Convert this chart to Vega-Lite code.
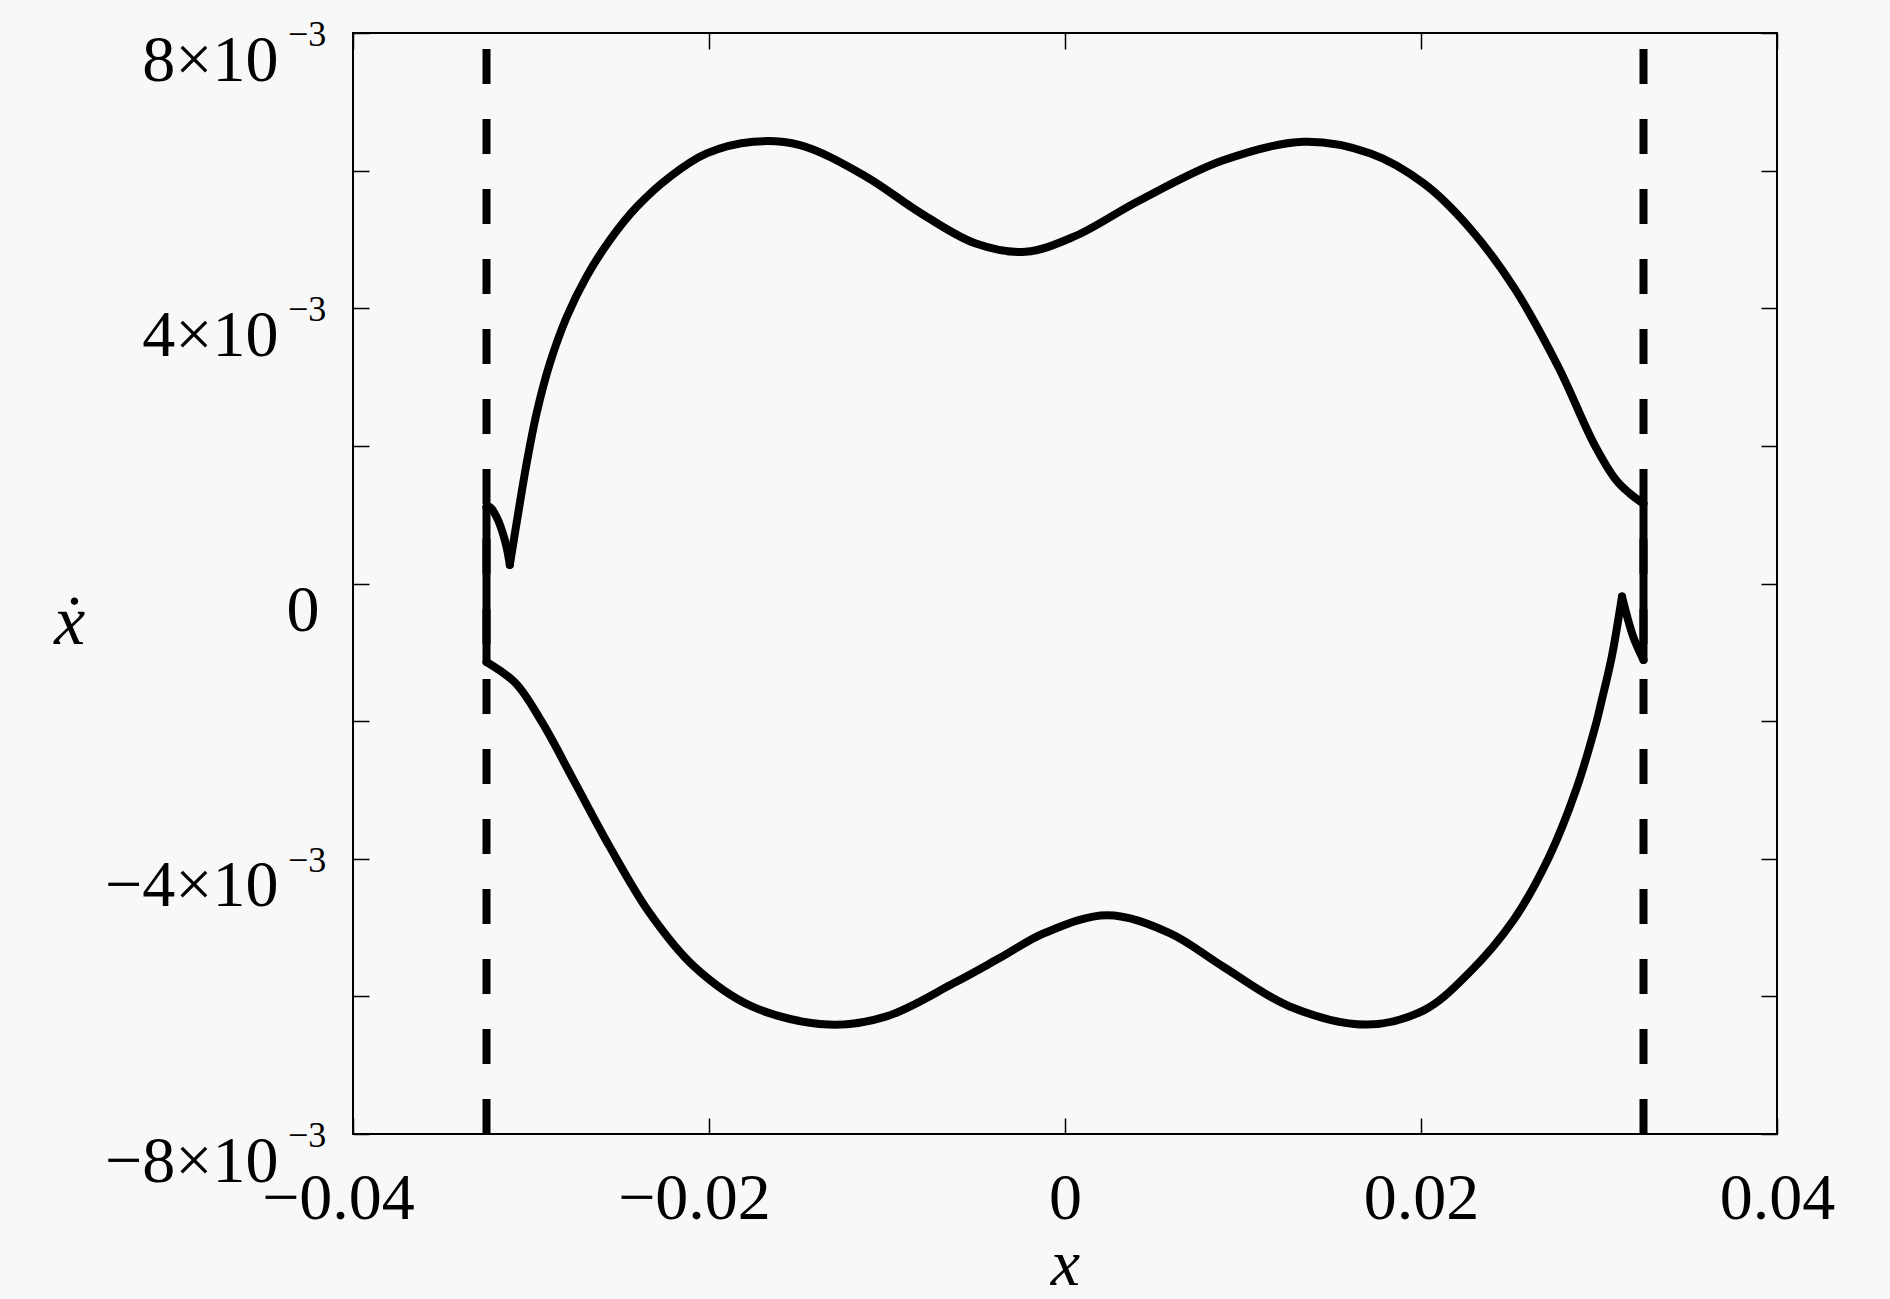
{
  "$schema": "https://vega.github.io/schema/vega-lite/v6.json",
  "width": 1424,
  "height": 1101,
  "autosize": {"type": "none"},
  "padding": {"left": 353, "top": 33, "right": 113, "bottom": 165},
  "background": "#f8f8f8",
  "config": {
    "view": {"stroke": "#000000", "strokeWidth": 2},
    "font": "Liberation Serif",
    "axis": {
      "grid": false,
      "domain": false,
      "tickColor": "#000000",
      "tickWidth": 1.5,
      "tickSize": -16,
      "labelColor": "#000000",
      "titleColor": "#000000",
      "labelFont": "Liberation Serif",
      "titleFont": "Liberation Serif"
    }
  },
  "datasets": {
    "orbit": [
      {"seg": "A", "i": 1, "x": -0.0325, "v": -0.00114},
      {"seg": "A", "i": 2, "x": -0.0325, "v": 0.00111},
      {"seg": "B", "i": 3, "x": -0.0325, "v": 0.00111},
      {"seg": "B", "i": 4, "x": -0.03231, "v": 0.00111},
      {"seg": "B", "i": 5, "x": -0.03194, "v": 0.00097},
      {"seg": "B", "i": 6, "x": -0.03147, "v": 0.00063},
      {"seg": "B", "i": 7, "x": -0.03119, "v": 0.00027},
      {"seg": "C", "i": 8, "x": -0.03119, "v": 0.00027},
      {"seg": "C", "i": 9, "x": -0.03072, "v": 0.00102},
      {"seg": "C", "i": 10, "x": -0.03025, "v": 0.00174},
      {"seg": "C", "i": 11, "x": -0.02969, "v": 0.00247},
      {"seg": "C", "i": 12, "x": -0.02894, "v": 0.0032},
      {"seg": "C", "i": 13, "x": -0.028, "v": 0.00387},
      {"seg": "C", "i": 14, "x": -0.02688, "v": 0.00446},
      {"seg": "C", "i": 15, "x": -0.02557, "v": 0.00499},
      {"seg": "C", "i": 16, "x": -0.02407, "v": 0.00547},
      {"seg": "C", "i": 17, "x": -0.0222, "v": 0.00591},
      {"seg": "C", "i": 18, "x": -0.02013, "v": 0.00625},
      {"seg": "C", "i": 19, "x": -0.01751, "v": 0.00642},
      {"seg": "C", "i": 20, "x": -0.01489, "v": 0.00637},
      {"seg": "C", "i": 21, "x": -0.01129, "v": 0.00593},
      {"seg": "C", "i": 22, "x": -0.00803, "v": 0.00537},
      {"seg": "C", "i": 23, "x": -0.00501, "v": 0.00494},
      {"seg": "C", "i": 24, "x": -0.00224, "v": 0.00482},
      {"seg": "C", "i": 25, "x": 0.0005, "v": 0.00504},
      {"seg": "C", "i": 26, "x": 0.00421, "v": 0.00557},
      {"seg": "C", "i": 27, "x": 0.00889, "v": 0.00615},
      {"seg": "C", "i": 28, "x": 0.01341, "v": 0.00642},
      {"seg": "C", "i": 29, "x": 0.01717, "v": 0.00625},
      {"seg": "C", "i": 30, "x": 0.02018, "v": 0.00581},
      {"seg": "C", "i": 31, "x": 0.02269, "v": 0.00518},
      {"seg": "C", "i": 32, "x": 0.0252, "v": 0.00431},
      {"seg": "C", "i": 33, "x": 0.02771, "v": 0.00315},
      {"seg": "C", "i": 34, "x": 0.02972, "v": 0.00203},
      {"seg": "C", "i": 35, "x": 0.03097, "v": 0.0015},
      {"seg": "C", "i": 36, "x": 0.03172, "v": 0.00131},
      {"seg": "C", "i": 37, "x": 0.0325, "v": 0.00116},
      {"seg": "D", "i": 38, "x": 0.0325, "v": 0.00116},
      {"seg": "D", "i": 39, "x": 0.0325, "v": -0.00111},
      {"seg": "E", "i": 40, "x": 0.0325, "v": -0.00111},
      {"seg": "E", "i": 41, "x": 0.03193, "v": -0.00078},
      {"seg": "E", "i": 42, "x": 0.03129, "v": -0.00019},
      {"seg": "F", "i": 43, "x": 0.03129, "v": -0.00019},
      {"seg": "F", "i": 44, "x": 0.03072, "v": -0.00106},
      {"seg": "F", "i": 45, "x": 0.03016, "v": -0.00169},
      {"seg": "F", "i": 46, "x": 0.02984, "v": -0.00203},
      {"seg": "F", "i": 47, "x": 0.02871, "v": -0.003},
      {"seg": "F", "i": 48, "x": 0.0272, "v": -0.00397},
      {"seg": "F", "i": 49, "x": 0.0252, "v": -0.00489},
      {"seg": "F", "i": 50, "x": 0.02269, "v": -0.00566},
      {"seg": "F", "i": 51, "x": 0.02018, "v": -0.0062},
      {"seg": "F", "i": 52, "x": 0.01692, "v": -0.00641},
      {"seg": "F", "i": 53, "x": 0.01266, "v": -0.00615},
      {"seg": "F", "i": 54, "x": 0.00889, "v": -0.00557},
      {"seg": "F", "i": 55, "x": 0.00588, "v": -0.00508},
      {"seg": "F", "i": 56, "x": 0.00237, "v": -0.00482},
      {"seg": "F", "i": 57, "x": -0.00115, "v": -0.00508},
      {"seg": "F", "i": 58, "x": -0.00365, "v": -0.00544},
      {"seg": "F", "i": 59, "x": -0.00627, "v": -0.00581},
      {"seg": "F", "i": 60, "x": -0.01003, "v": -0.00629},
      {"seg": "F", "i": 61, "x": -0.0133, "v": -0.00641},
      {"seg": "F", "i": 62, "x": -0.01756, "v": -0.00615},
      {"seg": "F", "i": 63, "x": -0.02082, "v": -0.00557},
      {"seg": "F", "i": 64, "x": -0.02333, "v": -0.00479},
      {"seg": "F", "i": 65, "x": -0.02559, "v": -0.00382},
      {"seg": "F", "i": 66, "x": -0.0276, "v": -0.00286},
      {"seg": "F", "i": 67, "x": -0.02935, "v": -0.00203},
      {"seg": "F", "i": 68, "x": -0.03086, "v": -0.00145},
      {"seg": "F", "i": 69, "x": -0.0325, "v": -0.00114}
    ],
    "walls": [
      {"wall": -0.0325},
      {"wall": 0.0325}
    ],
    "exponents": [
      {"v": 0.008, "e": "−3"},
      {"v": 0.004, "e": "−3"},
      {"v": -0.004, "e": "−3"},
      {"v": -0.008, "e": "−3"}
    ]
  },
  "layer": [
    {
      "data": {"name": "orbit"},
      "mark": {"type": "line", "color": "#000000", "strokeWidth": 8, "interpolate": "catmull-rom", "strokeJoin": "round", "strokeCap": "round"},
      "encoding": {
        "x": {
          "field": "x",
          "type": "quantitative",
          "scale": {"domain": [-0.04, 0.04], "nice": false, "zero": false},
          "axis": {
            "orient": "bottom",
            "values": [-0.04, -0.02, 0, 0.02, 0.04],
            "labelExpr": "datum.value == 0 ? '0' : (datum.value < 0 ? '−' + format(-datum.value, '.2f') : format(datum.value, '.2f'))",
            "labelFontSize": 66,
            "labelPadding": 80,
            "labelOffset": {"condition": {"test": "datum.value < 0", "value": -15}, "value": 0},
            "labelBaseline": "middle",
            "labelFlush": false,
            "labelOverlap": false,
            "labelBound": false,
            "title": "x",
            "titleFontSize": 66,
            "titleFontStyle": "italic",
            "titleFontWeight": "normal",
            "titleX": 712,
            "titleY": 164,
            "titleAlign": "center",
            "titleBaseline": "bottom"
          }
        },
        "y": {
          "field": "v",
          "type": "quantitative",
          "scale": {"domain": [-0.008, 0.008], "nice": false, "zero": false},
          "axis": {
            "orient": "left",
            "values": [-0.008, -0.006, -0.004, -0.002, 0, 0.002, 0.004, 0.006, 0.008],
            "labelExpr": "datum.value == 0 ? '0' : (round(datum.value*1000) % 4 == 0 ? (datum.value < 0 ? '−' : '') + abs(round(datum.value*1000)) + '×10' : '')",
            "labelFontSize": 66,
            "labelPadding": {"condition": {"test": "datum.value == 0", "value": 50}, "value": 91},
            "labelBaseline": "middle",
            "labelOffset": 27,
            "labelFlush": false,
            "labelOverlap": false,
            "labelBound": false,
            "title": "ẋ",
            "titleFontSize": 70,
            "titleFontStyle": "italic",
            "titleFontWeight": "normal",
            "titleAngle": 0,
            "titleX": -284,
            "titleY": 589,
            "titleAlign": "center",
            "titleBaseline": "middle"
          }
        },
        "detail": {"field": "seg", "type": "nominal"},
        "order": {"field": "i", "type": "quantitative"}
      }
    },
    {
      "data": {"name": "walls"},
      "mark": {"type": "rule", "color": "#000000", "strokeWidth": 8, "strokeDash": [35, 35]},
      "encoding": {
        "x": {
          "field": "wall",
          "type": "quantitative",
          "scale": {"domain": [-0.04, 0.04], "nice": false, "zero": false},
          "axis": {"orient": "top", "values": [-0.04, -0.02, 0, 0.02, 0.04], "labels": false, "title": null}
        },
        "y": {
          "datum": -0.008,
          "type": "quantitative",
          "scale": {"domain": [-0.008, 0.008], "nice": false, "zero": false},
          "axis": {"orient": "right", "values": [-0.008, -0.006, -0.004, -0.002, 0, 0.002, 0.004, 0.006, 0.008], "labels": false, "title": null}
        },
        "y2": {"datum": 0.008}
      }
    },
    {
      "data": {"name": "exponents"},
      "mark": {"type": "text", "align": "left", "baseline": "middle", "dx": -65, "dy": 2, "fontSize": 36, "font": "Liberation Serif", "color": "#000000"},
      "encoding": {
        "x": {"datum": -0.04, "type": "quantitative", "axis": null},
        "y": {"field": "v", "type": "quantitative", "axis": null},
        "text": {"field": "e"}
      }
    }
  ],
  "resolve": {"axis": {"x": "independent", "y": "independent"}}
}
